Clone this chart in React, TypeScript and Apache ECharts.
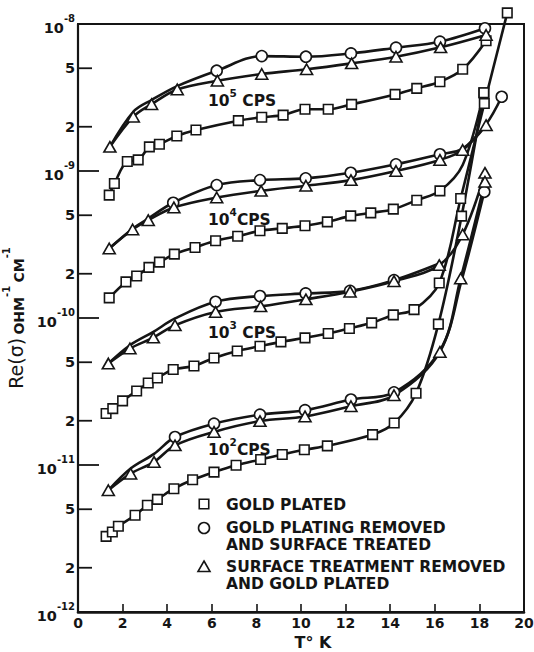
import React, { useEffect, useRef } from "react";
import * as echarts from "echarts";

// [T (K), Re(sigma) (ohm^-1 cm^-1)]; a third entry of 0 marks a point the
// curve passes through without a plotted symbol.
type Pt = number[];

// Gold plated (squares)
const gold1e5: Pt[] = [
  [1.4, 6.85e-10], [1.63, 8.22e-10], [2.21, 1.16e-9], [2.7, 1.19e-9], [3.2, 1.46e-9],
  [3.65, 1.52e-9], [4.43, 1.73e-9], [5.29, 1.9e-9], [7.19, 2.2e-9], [8.24, 2.32e-9],
  [9.2, 2.4e-9], [10.18, 2.63e-9], [11.22, 2.63e-9], [12.27, 2.84e-9], [14.22, 3.32e-9],
  [15.19, 3.65e-9], [16.23, 4.05e-9], [17.25, 4.92e-9], [18.3, 7.7e-9],
];
const gold1e4: Pt[] = [
  [1.4, 1.37e-10], [2.15, 1.76e-10], [2.63, 1.93e-10], [3.18, 2.21e-10], [3.65, 2.4e-10],
  [4.32, 2.72e-10], [5.25, 3.02e-10], [6.17, 3.35e-10], [7.16, 3.6e-10], [8.16, 3.92e-10],
  [9.16, 4.07e-10], [10.18, 4.24e-10], [11.18, 4.51e-10], [12.23, 4.95e-10], [13.13, 5.19e-10],
  [14.14, 5.5e-10], [15.19, 6.33e-10], [16.23, 7.33e-10], [17.25, 1.1e-9, 0], [18.2, 3.41e-9],
];
const gold1e3: Pt[] = [
  [1.26, 2.24e-11], [1.56, 2.42e-11], [2.0, 2.73e-11], [2.63, 3.19e-11], [3.15, 3.61e-11],
  [3.56, 3.91e-11], [4.27, 4.46e-11], [5.2, 4.72e-11], [6.1, 5.35e-11], [7.14, 5.97e-11],
  [8.16, 6.43e-11], [9.1, 6.88e-11], [10.18, 7.33e-11], [11.22, 7.84e-11], [12.17, 8.49e-11],
  [13.17, 9.27e-11], [14.14, 1.05e-10], [15.07, 1.14e-10], [16.2, 1.73e-10], [17.16, 6.5e-10],
  [18.22, 2.88e-9], [19.25, 1.19e-8],
];
const gold1e2: Pt[] = [
  [1.26, 3.27e-12], [1.54, 3.5e-12], [1.81, 3.83e-12], [2.56, 4.55e-12], [3.11, 5.32e-12],
  [3.56, 5.84e-12], [4.3, 6.9e-12], [5.14, 7.94e-12], [6.1, 8.95e-12], [7.09, 9.95e-12],
  [8.19, 1.09e-11], [9.16, 1.18e-11], [10.15, 1.27e-11], [11.18, 1.35e-11], [13.21, 1.61e-11],
  [14.18, 1.93e-11], [15.16, 3.08e-11], [16.16, 9.08e-11], [17.2, 4.93e-10], [18.2, 3.41e-9],
];

// Gold plating removed and surface treated (circles)
const treated1e5: Pt[] = [
  [1.43, 1.46e-9, 0], [2.48, 2.53e-9, 0], [3.3, 3.04e-9, 0], [4.45, 3.78e-9, 0],
  [6.22, 4.81e-9], [8.24, 6.05e-9], [10.22, 5.99e-9], [12.24, 6.31e-9], [14.26, 6.9e-9],
  [16.23, 7.58e-9], [18.25, 9.35e-9],
];
const treated1e4: Pt[] = [
  [1.4, 2.97e-10, 0], [2.45, 4.05e-10, 0], [3.15, 4.75e-10, 0], [4.27, 6.08e-10],
  [6.22, 8.02e-10], [8.16, 8.67e-10], [10.21, 8.91e-10], [12.23, 9.72e-10], [14.26, 1.11e-9],
  [16.23, 1.3e-9], [17.25, 1.42e-9, 0], [18.3, 2.08e-9, 0], [19.0, 3.2e-9],
];
const treated1e3: Pt[] = [
  [1.36, 4.9e-11, 0], [2.33, 6.53e-11, 0], [3.38, 8.05e-11, 0], [4.35, 9.93e-11, 0],
  [6.17, 1.29e-10], [8.16, 1.41e-10], [10.21, 1.47e-10], [12.2, 1.53e-10], [14.17, 1.81e-10],
  [16.2, 2.35e-10, 0],
];
const treated1e2: Pt[] = [
  [1.36, 6.73e-12, 0], [2.36, 9.46e-12, 0], [3.41, 1.19e-11, 0], [4.35, 1.55e-11],
  [6.1, 1.91e-11], [8.16, 2.2e-11], [10.18, 2.36e-11], [12.24, 2.79e-11], [14.17, 3.12e-11],
  [16.23, 6.0e-11, 0], [17.2, 1.8e-10, 0], [18.22, 7.22e-10],
];

// Surface treatment removed and gold plated (triangles)
const replated1e5: Pt[] = [
  [1.43, 1.46e-9], [2.48, 2.34e-9], [3.3, 2.85e-9], [4.45, 3.59e-9], [6.25, 4.11e-9],
  [8.24, 4.57e-9], [10.25, 4.92e-9], [12.27, 5.4e-9], [14.26, 5.99e-9], [16.26, 6.94e-9],
  [18.3, 8.42e-9],
];
const replated1e4: Pt[] = [
  [1.4, 2.97e-10], [2.45, 4.0e-10], [3.15, 4.63e-10], [4.3, 5.65e-10], [6.22, 6.6e-10],
  [8.21, 7.33e-10], [10.22, 7.94e-10], [12.24, 8.67e-10], [14.26, 1.0e-9], [16.23, 1.19e-9],
  [17.25, 1.39e-9], [18.3, 2.05e-9],
];
const replated1e3: Pt[] = [
  [1.36, 4.9e-11], [2.33, 6.2e-11], [3.38, 7.36e-11], [4.35, 8.93e-11], [6.17, 1.1e-10],
  [8.19, 1.2e-10], [10.22, 1.34e-10], [12.2, 1.51e-10], [14.17, 1.78e-10], [16.2, 2.29e-10],
  [17.25, 3.7e-10], [18.25, 9.72e-10],
];
const replated1e2: Pt[] = [
  [1.36, 6.73e-12], [2.36, 8.73e-12], [3.41, 1.05e-11], [4.35, 1.36e-11], [6.1, 1.68e-11],
  [8.16, 1.99e-11], [10.18, 2.14e-11], [12.24, 2.51e-11], [14.17, 2.98e-11], [16.23, 5.88e-11],
  [17.16, 1.86e-10], [18.25, 8.45e-10],
];

// Intermediate ticks on the conductivity axis, labelled by their mantissa
const minorTickValues = [2e-12, 5e-12, 2e-11, 5e-11, 2e-10, 5e-10, 2e-9, 5e-9];

const legendNames = [
  "GOLD PLATED",
  "GOLD PLATING REMOVED\nAND SURFACE TREATED",
  "SURFACE TREATMENT REMOVED\nAND GOLD PLATED",
];
const frequencyExponents = ["5", "4", "3", "2"];

const INK = "#151515";
const FONT = '"DejaVu Sans", sans-serif';

const SYMBOLS = {
  square: { symbol: "rect", size: 9.5 },
  circle: { symbol: "circle", size: 11 },
  triangle: { symbol: "triangle", size: [12, 10.5] },
};

function curve(name: string, pts: Pt[], kind: keyof typeof SYMBOLS) {
  const s = SYMBOLS[kind];
  return {
    type: "line",
    name,
    smooth: 0.35,
    clip: false,
    symbol: s.symbol,
    symbolSize: s.size,
    showAllSymbol: true,
    data: pts.map((p) =>
      p[2] === 0 ? { value: [p[0], p[1]], symbol: "none" } : [p[0], p[1]]
    ),
    lineStyle: { color: INK, width: 2.6 },
    itemStyle: { color: "#fff", borderColor: INK, borderWidth: 1.6 },
    emphasis: { disabled: true },
  };
}

function superscriptLabel(base: string, sup: string, tail: string) {
  return `{a|${base}}{s|${sup}}{a|${tail}}`;
}

export default function App() {
  const ref = useRef<HTMLDivElement>(null);

  useEffect(() => {
    if (!ref.current) return;
    const chart = echarts.init(ref.current, undefined, { renderer: "svg" });

    const labelRich = {
      a: { fontFamily: FONT, fontWeight: "bold", fontSize: 15.5, color: INK, lineHeight: 22, verticalAlign: "bottom" },
      s: { fontFamily: FONT, fontWeight: "bold", fontSize: 10.5, color: INK, lineHeight: 12, verticalAlign: "top" },
    };

    const freqTops = [87, 206, 319, 436];
    const freqText = [
      superscriptLabel("10", frequencyExponents[0], " CPS"),
      superscriptLabel("10", frequencyExponents[1], "CPS"),
      superscriptLabel("10", frequencyExponents[2], " CPS"),
      superscriptLabel("10", frequencyExponents[3], "CPS"),
    ];

    const legendFont = `bold 15.5px ${FONT}`;
    const symStyle = { fill: "#fff", stroke: INK, lineWidth: 1.6 };

    chart.setOption({
      animation: false,
      backgroundColor: "#fff",
      grid: {
        left: 78,
        right: 10,
        top: 24,
        bottom: 40,
        outerBoundsMode: "none",
        containLabel: false,
        show: true,
        borderColor: INK,
        borderWidth: 2,
        backgroundColor: "transparent",
      },
      xAxis: {
        type: "value",
        min: 0,
        max: 20,
        interval: 2,
        axisLine: { show: true, lineStyle: { color: INK, width: 2.6 } },
        axisTick: { show: true, inside: true, length: 8, lineStyle: { color: INK, width: 1.6 } },
        splitLine: { show: false },
        axisLabel: { margin: 4, color: INK, fontFamily: FONT, fontWeight: "bold", fontSize: 14 },
        name: "T° K",
        nameLocation: "middle",
        nameGap: 21,
        nameTextStyle: {
          color: INK,
          fontFamily: FONT,
          fontWeight: "bold",
          fontSize: 16,
          padding: [0, 0, 0, 24],
        },
      },
      yAxis: {
        type: "log",
        logBase: 10,
        min: 1e-12,
        max: 1e-8,
        splitNumber: 4,
        axisLine: { show: true, lineStyle: { color: INK, width: 2.2 } },
        axisTick: { show: true, inside: true, length: 21, lineStyle: { color: INK, width: 1.8 } },
        minorTick: { show: false },
        splitLine: { show: false },
        axisLabel: {
          margin: 3,
          formatter: (v: number) => {
            const e = Math.round(Math.log10(v));
            return `{b|10}{s|-${-e}}`;
          },
          rich: {
            b: { fontFamily: FONT, fontWeight: "bold", fontSize: 14.5, color: INK, lineHeight: 22, verticalAlign: "bottom" },
            s: { fontFamily: FONT, fontWeight: "bold", fontSize: 10, color: INK, lineHeight: 11, verticalAlign: "top" },
          },
        },
        name: "{r|Re(σ)} {u|OHM}{p|-1} {u|CM}{p|-1}",
        nameLocation: "middle",
        nameRotate: 90,
        nameGap: 49,
        nameTextStyle: {
          rich: {
            r: { fontFamily: FONT, fontSize: 19, color: INK, lineHeight: 24, verticalAlign: "bottom" },
            u: { fontFamily: FONT, fontWeight: "bold", fontSize: 14, color: INK, lineHeight: 22, verticalAlign: "bottom" },
            p: { fontFamily: FONT, fontWeight: "bold", fontSize: 10, color: INK, lineHeight: 12, verticalAlign: "top" },
          },
        },
      },
      series: [
        {
          type: "custom",
          name: "minor ticks",
          silent: true,
          data: minorTickValues.map((v) => [0, v]),
          renderItem: (params: any, api: any) => {
            const v = api.value(1);
            const p = api.coord([0, v]);
            const mant = Math.round(v / Math.pow(10, Math.floor(Math.log10(v) + 1e-9)));
            return {
              type: "group",
              children: [
                {
                  type: "line",
                  shape: { x1: p[0] + 1, y1: p[1], x2: p[0] + 14, y2: p[1] },
                  style: { stroke: INK, lineWidth: 1.8 },
                },
                {
                  type: "text",
                  style: {
                    text: String(mant),
                    x: p[0] - 3,
                    y: p[1],
                    align: "right",
                    verticalAlign: "middle",
                    font: `bold 14.5px ${FONT}`,
                    fill: INK,
                  },
                },
              ],
            };
          },
        },
        curve(legendNames[0], gold1e5, "square"),
        curve(legendNames[0], gold1e4, "square"),
        curve(legendNames[0], gold1e3, "square"),
        curve(legendNames[0], gold1e2, "square"),
        curve(legendNames[1], treated1e5, "circle"),
        curve(legendNames[1], treated1e4, "circle"),
        curve(legendNames[1], treated1e3, "circle"),
        curve(legendNames[1], treated1e2, "circle"),
        curve(legendNames[2], replated1e5, "triangle"),
        curve(legendNames[2], replated1e4, "triangle"),
        curve(legendNames[2], replated1e3, "triangle"),
        curve(legendNames[2], replated1e2, "triangle"),
      ],
      graphic: [
        ...freqText.map((t, i) => ({
          type: "text",
          x: 208,
          y: freqTops[i],
          z: 50,
          style: { text: t, rich: labelRich, fill: INK },
        })),
        { type: "rect", z: 50, shape: { x: 199.25, y: 499.25, width: 9.5, height: 9.5 }, style: symStyle },
        { type: "circle", z: 50, shape: { cx: 204, cy: 528, r: 5.5 }, style: symStyle },
        { type: "polygon", z: 50, shape: { points: [[204, 561], [210, 571.5], [198, 571.5]] }, style: symStyle },
        ...legendNames.map((n, i) => ({
          type: "text",
          x: 226,
          y: [497, 520, 559][i],
          z: 50,
          style: { text: n, font: legendFont, fill: INK, lineHeight: 16.5, verticalAlign: "top" },
        })),
      ],
    });

    return () => chart.dispose();
  }, []);

  return (
    <div
      ref={ref}
      style={{ position: "fixed", left: 0, top: 0, width: 534, height: 652, background: "#fff" }}
    />
  );
}
